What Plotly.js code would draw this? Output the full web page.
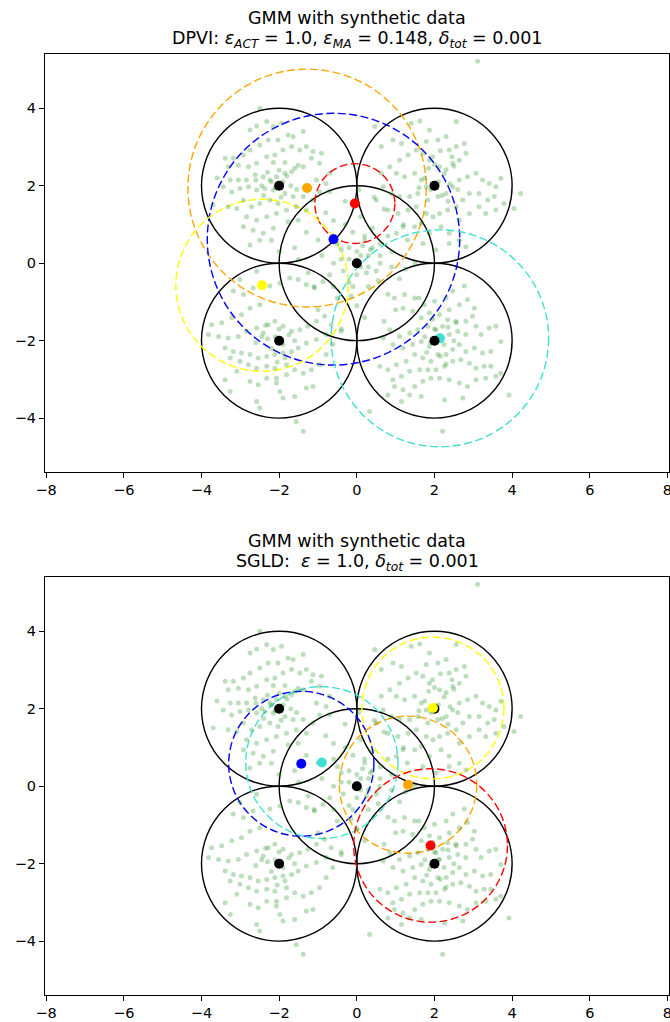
<!DOCTYPE html>
<html>
<head>
<meta charset="utf-8">
<script src="https://cdn.plot.ly/plotly-3.0.1.min.js"></script>
<style>html,body{margin:0;padding:0;background:#fff;}#chart{width:670px;height:1022px;}</style>
</head>
<body>
<div id="chart"></div>
<script>
// ---- synthetic data (same data in both panels) ----
const ptsA = [[-2.50,4.00],[-2.75,3.44],[-2.58,3.54],[-2.32,3.66],[-2.15,3.53],[-1.94,3.61],[-1.77,3.31],[-1.64,3.27],[-1.38,3.40],[-2.03,3.18],[-2.28,3.18],[-2.50,3.05],[-2.75,2.92],[-2.92,2.79],[-3.18,2.71],[-3.39,2.71],[-3.31,2.49],[-3.05,2.53],[-2.79,2.49],[-2.58,2.58],[-2.32,2.75],[-2.11,2.79],[-1.90,2.92],[-1.68,3.01],[-1.47,2.92],[-1.30,3.01],[-1.13,2.88],[-0.91,2.84],[-0.96,2.58],[-1.17,2.71],[-1.38,2.49],[-1.51,2.53],[-1.68,2.36],[-1.85,2.32],[-2.07,2.23],[-2.24,2.15],[-2.41,2.23],[-2.62,2.28],[-2.84,2.15],[-3.05,2.15],[-3.26,2.15],[-3.44,1.97],[-3.22,1.84],[-3.01,1.93],[-2.79,1.97],[-2.58,1.89],[-2.37,1.93],[-2.15,1.89],[-1.85,1.80],[-1.64,1.72],[-1.38,1.72],[-1.13,1.63],[-0.96,1.84],[-0.79,2.06],[-0.70,2.32],[-1.04,2.15],[-2.92,1.63],[-2.71,1.46],[-2.50,1.54],[-2.24,1.63],[-2.03,1.54],[-1.81,1.37],[-1.56,1.46],[-1.30,1.37],[-3.09,1.41],[-3.31,1.46],[-2.84,1.20],[-2.58,1.11],[-2.32,1.20],[-2.07,1.28],[-1.77,1.07],[-1.51,1.11],[-2.67,0.85],[-2.41,0.77],[-2.15,0.90],[-2.92,0.94],[-2.50,0.59],[-2.20,0.59],[-2.75,0.47],[-3.60,2.20],[-3.70,1.50],[-1.60,0.40],[-2.00,0.30],[-0.60,1.10],
  [-1.90,2.10],[-2.10,1.95],[-1.80,2.25],[-2.20,2.10],[-2.00,2.40],[-1.70,2.00],[-2.30,2.35],[-1.95,1.70],[-2.45,2.00],[-1.60,2.45],[-2.15,2.60],[-1.85,2.60],[-2.40,1.75],[-1.55,1.90],[-2.60,2.15]];
const ptsB = [[3.11,5.21],[2.56,3.66],[1.87,3.44],[1.62,3.67],[1.40,3.61],[1.15,3.09],[0.93,3.18],[0.63,3.01],[0.46,3.53],[1.79,3.14],[2.09,3.18],[2.30,3.27],[2.38,2.92],[2.56,3.01],[2.77,3.09],[2.81,2.84],[2.64,2.66],[2.47,2.58],[2.30,2.41],[2.13,2.49],[1.87,2.66],[1.70,2.84],[1.53,2.92],[1.32,2.79],[1.10,2.66],[0.85,2.49],[0.63,2.32],[1.02,2.32],[1.23,2.23],[1.49,2.32],[1.66,2.15],[1.79,1.97],[1.57,1.80],[1.36,1.72],[1.10,1.72],[0.89,1.80],[0.68,1.97],[0.50,1.63],[0.80,1.37],[1.06,1.28],[1.32,1.37],[1.53,1.46],[1.83,1.63],[2.09,1.72],[2.30,1.80],[2.47,1.97],[2.64,2.15],[2.85,2.23],[3.07,2.32],[3.24,2.15],[3.41,2.06],[3.58,1.97],[3.71,2.19],[3.54,1.72],[3.37,1.63],[3.15,1.80],[2.90,1.80],[2.73,1.63],[2.56,1.46],[2.34,1.37],[2.13,1.28],[1.96,1.20],[1.79,1.28],[1.66,1.03],[1.49,0.94],[1.19,0.94],[1.02,0.77],[1.87,0.77],[2.17,0.94],[2.38,0.77],[2.64,1.11],[2.90,1.28],[3.15,1.46],[3.32,1.28],[3.58,1.37],[3.79,1.54],[4.05,1.41],[4.22,1.80],[1.70,0.51],[2.38,0.51],[2.64,0.59],[2.04,0.34],[2.81,0.42],
  [2.10,2.10],[1.90,1.90],[2.25,2.30],[1.75,2.20],[2.40,2.05],[2.00,2.55],[2.20,1.75],[1.60,1.95],[2.50,2.50],[1.85,2.45],[2.35,1.60],[2.60,1.90],[1.95,2.75],[2.15,2.90],[2.45,2.75]];
const ptsC = [[0.10,1.20],[-0.30,1.00],[0.40,0.90],[-0.60,0.70],[0.20,0.60],[0.60,0.50],[-0.20,0.40],[0.90,0.30],[-0.90,0.20],[0.30,0.20],[-0.40,0.10],[0.10,-0.10],[0.50,-0.20],[-0.70,-0.30],[1.10,-0.40],[-0.20,-0.50],[0.30,-0.60],[0.80,-0.80],[-0.50,-0.90],[0.00,-1.10],[-1.10,-0.60],[1.30,0.60],[-1.30,0.80],[0.70,1.40],[-0.80,1.30],[0.20,-1.40],[1.00,-1.20],[-1.00,-1.20],[0.60,0.00],[-0.10,0.80],[0.35,0.35],[-0.35,-0.20],[0.15,0.45],[0.80,0.70],[-0.50,0.50],[0.55,-0.45],[-0.15,-0.85],[1.50,0.00],[-1.50,0.10],[0.45,1.70],[-0.30,1.60],[1.20,1.00],[-1.00,0.60],[0.90,-0.10],[0.00,0.30],[0.25,-0.25],[-0.60,-0.60],[0.70,-1.50],[-0.40,-1.70],[1.60,-0.90],[1.25,-0.15],[-1.25,-0.25],[0.05,1.90],[-0.70,1.85],
  [0.10,0.20],[-0.20,0.10],[0.30,-0.10],[0.00,-0.30],[0.40,0.40],[-0.40,0.35],[0.20,0.70],[-0.10,-0.60],[0.60,0.20],[-0.60,0.00]];
const ptsD = [[-2.58,-0.21],[-3.01,-0.42],[-3.18,-0.72],[-2.92,-0.81],[-2.67,-0.64],[-2.24,-0.59],[-1.98,-0.51],[-1.73,-0.38],[-1.51,-0.42],[-1.30,-0.55],[-1.09,-0.64],[-0.87,-0.47],[-2.50,-1.07],[-2.75,-1.16],[-2.97,-1.33],[-3.22,-1.41],[-3.48,-1.54],[-3.74,-1.59],[-3.82,-1.84],[-3.56,-1.89],[-3.31,-1.93],[-3.05,-1.89],[-2.84,-1.76],[-2.58,-1.67],[-2.41,-1.80],[-2.28,-1.59],[-2.11,-1.50],[-1.90,-1.63],[-1.68,-1.76],[-1.47,-1.72],[-1.26,-1.63],[-1.04,-1.50],[-0.83,-1.37],[-0.66,-1.59],[-0.79,-1.84],[-1.04,-1.97],[-1.30,-2.06],[-1.51,-2.19],[-1.68,-2.28],[-1.90,-2.32],[-2.11,-2.36],[-2.32,-2.41],[-2.54,-2.45],[-2.75,-2.36],[-2.97,-2.32],[-3.18,-2.28],[-3.39,-2.19],[-3.26,-2.45],[-3.01,-2.53],[-2.79,-2.62],[-2.58,-2.71],[-2.32,-2.66],[-2.11,-2.71],[-1.81,-2.62],[-1.60,-2.75],[-1.38,-2.84],[-1.17,-2.75],[-0.96,-2.62],[-0.79,-2.36],[-3.39,-3.01],[-2.75,-3.05],[-2.54,-3.14],[-2.32,-2.97],[-2.07,-3.09],[-1.98,-3.31],[-1.90,-3.48],[-1.60,-3.44],[-1.30,-3.22],[-1.13,-3.18],[-3.26,-3.31],[-2.58,-3.57],[-2.50,-3.74],[-1.56,-4.09],[-1.38,-4.34],[-2.07,-2.97],[-1.81,-2.88],[-3.09,-2.79],[-0.62,-2.10],[-0.40,-1.76],
  [-2.10,-1.90],[-1.90,-2.10],[-2.30,-1.95],[-1.75,-1.85],[-2.20,-2.20],[-2.00,-1.70],[-2.45,-1.90],[-1.60,-2.00],[-2.35,-1.60],[-1.85,-2.45],[-2.60,-2.05],[-2.05,-2.55]];
const ptsE = [[2.77,-0.59],[2.47,-0.72],[2.30,-0.90],[2.00,-0.98],[1.74,-1.07],[1.49,-0.90],[1.23,-0.81],[0.97,-0.90],[1.19,-1.16],[1.44,-1.24],[1.66,-1.41],[1.87,-1.28],[2.13,-1.33],[2.38,-1.20],[2.64,-1.07],[2.85,-0.94],[3.03,-1.16],[2.98,-1.37],[2.81,-1.50],[2.56,-1.54],[2.34,-1.46],[2.21,-1.63],[2.04,-1.72],[1.83,-1.63],[1.57,-1.72],[1.36,-1.80],[1.10,-1.89],[0.85,-1.72],[0.68,-1.93],[0.93,-2.10],[1.19,-2.19],[1.44,-2.10],[1.66,-2.02],[1.87,-2.15],[2.13,-1.89],[2.38,-1.84],[2.60,-1.76],[2.81,-1.84],[3.07,-1.63],[3.20,-1.84],[3.41,-1.67],[3.58,-1.63],[3.71,-2.02],[3.45,-2.28],[3.24,-2.32],[3.03,-2.19],[2.81,-2.28],[2.64,-2.10],[2.47,-2.23],[2.30,-2.36],[2.09,-2.36],[1.91,-2.53],[1.70,-2.45],[1.49,-2.36],[1.27,-2.53],[1.02,-2.62],[0.80,-2.75],[0.93,-3.01],[1.15,-2.92],[1.36,-2.79],[1.62,-2.75],[1.83,-2.75],[2.04,-2.75],[2.26,-2.66],[2.47,-2.53],[2.68,-2.49],[2.90,-2.58],[3.07,-2.71],[3.28,-2.66],[3.45,-2.66],[3.58,-2.92],[3.32,-2.97],[3.07,-3.01],[2.85,-3.18],[2.64,-3.09],[2.38,-3.01],[2.13,-2.97],[1.91,-2.97],[1.70,-3.05],[1.49,-3.18],[1.19,-3.27],[0.97,-3.18],[0.80,-3.40],[1.36,-3.40],[1.66,-3.44],[2.26,-3.53],[2.73,-3.48],[3.92,-3.40],[2.21,-4.34],[1.15,-3.57],[0.33,-3.83],[0.59,-2.66],[3.71,-2.84],
  [2.10,-1.90],[1.90,-2.05],[2.25,-2.10],[2.00,-1.70],[2.35,-1.65],[1.75,-1.90],[2.50,-2.00],[2.15,-2.40],[1.80,-2.30],[2.55,-1.50],[1.95,-1.45],[2.30,-2.60]];

// true component means (black) and radius
const trueX = [-2, 2, 0, -2, 2];
const trueY = [2, 2, 0, -2, -2];
const trueR = 2;

// estimated components
const compColors = ['orange', 'red', 'blue', 'yellow', 'turquoise'];
// DPVI (top)
const dpviX = [-1.28, -0.05, -0.60, -2.44, 2.14];
const dpviY = [1.94, 1.54, 0.62, -0.57, -1.94];
const dpviR = [3.07, 1.03, 3.25, 2.22, 2.80];
// SGLD (bottom)
const sgldColors = ['yellow', 'blue', 'turquoise', 'orange', 'red'];
const sgldX = [1.96, -1.43, -0.90, 1.32, 1.90];
const sgldY = [2.02, 0.58, 0.61, 0.04, -1.53];
const sgldR = [1.83, 1.87, 1.96, 1.77, 1.98];

const xTicks = [-8, -6, -4, -2, 0, 2, 4, 6, 8];
const yTicks = [-4, -2, 0, 2, 4];

const titleMain = 'GMM with synthetic data';
const sub1 = 'DPVI: <i>ε</i><sub><i>ACT</i></sub> = 1.0, <i>ε</i><sub><i>MA</i></sub> = 0.148, <i>δ</i><sub><i>tot</i></sub> = 0.001';
const sub2 = 'SGLD:  <i>ε</i> = 1.0, <i>δ</i><sub><i>tot</i></sub> = 0.001';

// ---- build ----
const allPts = ptsA.concat(ptsB, ptsC, ptsD, ptsE);
const dx = allPts.map(p => p[0]);
const dy = allPts.map(p => p[1]);

function dataTrace(xa, ya) {
  return {x: dx, y: dy, xaxis: xa, yaxis: ya, type: 'scatter', mode: 'markers',
    marker: {color: 'rgba(0,128,0,0.26)', size: 5, line: {width: 0}}, hoverinfo: 'skip', showlegend: false};
}
function pointTrace(xs, ys, colors, xa, ya) {
  return {x: xs, y: ys, xaxis: xa, yaxis: ya, type: 'scatter', mode: 'markers',
    marker: {color: colors, size: 10, line: {width: 0}}, showlegend: false};
}
const blackCols = trueX.map(() => 'black');

const traces = [
  dataTrace('x', 'y'),
  pointTrace(dpviX, dpviY, compColors, 'x', 'y'),
  pointTrace(trueX, trueY, blackCols, 'x', 'y'),
  dataTrace('x2', 'y2'),
  pointTrace(trueX, trueY, blackCols, 'x2', 'y2'),
  pointTrace(sgldX, sgldY, sgldColors, 'x2', 'y2')
];

const shapes = [];
function addCircle(cx, cy, r, color, dashed, xr, yr) {
  shapes.push({type: 'circle', xref: xr, yref: yr, x0: cx - r, x1: cx + r, y0: cy - r, y1: cy + r,
    layer: 'below', line: {color: color, width: 1.4, dash: dashed ? '8px,3.5px' : 'solid'}, fillcolor: 'rgba(0,0,0,0)'});
}
trueX.forEach((x, i) => addCircle(x, trueY[i], trueR, 'black', false, 'x', 'y'));
dpviX.forEach((x, i) => addCircle(x, dpviY[i], dpviR[i], compColors[i], true, 'x', 'y'));
trueX.forEach((x, i) => addCircle(x, trueY[i], trueR, 'black', false, 'x2', 'y2'));
sgldX.forEach((x, i) => addCircle(x, sgldY[i], sgldR[i], sgldColors[i], true, 'x2', 'y2'));

const axCommon = {showgrid: false, zeroline: false, showline: true, linecolor: 'black', linewidth: 1,
  mirror: true, ticks: 'outside', ticklen: 5, tickwidth: 1, tickcolor: 'black', ticklabeloverflow: 'allow',
  tickfont: {family: 'DejaVu Sans', size: 14.5, color: 'black'}};
const xr = [-8.03, 8.04];
const yr = [-5.39, 5.40];

const tfont = {family: 'DejaVu Sans', size: 17.5, color: 'black'};
function titleAnn(text, ytop, shift) {
  return {text: text, xref: 'paper', yref: 'paper', x: 0.5, y: ytop, xanchor: 'center', yanchor: 'middle',
    yshift: shift, showarrow: false, font: tfont};
}

const layout = {
  width: 670, height: 1022,
  margin: {l: 45, r: 1, t: 54, b: 27},
  paper_bgcolor: 'white', plot_bgcolor: 'white',
  showlegend: false,
  font: {family: 'DejaVu Sans', color: 'black'},
  xaxis: Object.assign({}, axCommon, {domain: [0, 1], anchor: 'y', range: xr, tickvals: xTicks}),
  yaxis: Object.assign({}, axCommon, {domain: [0.5558, 1], anchor: 'x', range: yr, tickvals: yTicks}),
  xaxis2: Object.assign({}, axCommon, {domain: [0, 1], anchor: 'y2', range: xr, tickvals: xTicks}),
  yaxis2: Object.assign({}, axCommon, {domain: [0, 0.4442], anchor: 'x2', range: yr, tickvals: yTicks}),
  shapes: shapes,
  annotations: [
    titleAnn(titleMain, 1, 36),
    titleAnn(sub1, 1, 15),
    titleAnn(titleMain, 0.4442, 36),
    titleAnn(sub2, 0.4442, 15)
  ]
};

Plotly.newPlot('chart', traces, layout, {staticPlot: true, displayModeBar: false});
</script>
</body>
</html>
